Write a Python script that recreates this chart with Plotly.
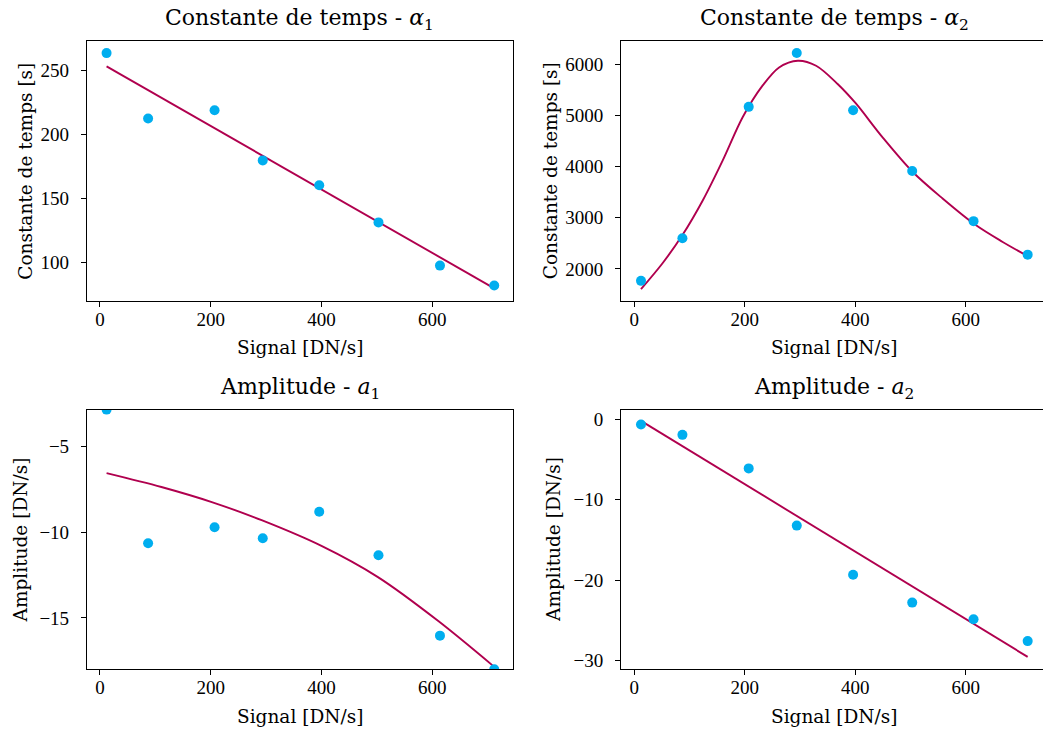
import plotly.graph_objects as go

# ---------------- data ----------------
signal = [12, 87, 207, 294, 396, 503, 614, 712]

tau1 = [263.8, 212.6, 219.1, 179.9, 160.4, 131.4, 97.6, 82.0]
tau2 = [1767, 2597, 5164, 6214, 5098, 3912, 2933, 2279]
amp1 = [-2.85, -10.64, -9.71, -10.35, -8.80, -11.34, -16.03, -17.99]
amp2 = [-0.66, -1.94, -6.11, -13.23, -19.34, -22.81, -24.88, -27.6]

fit_tau1_x = [12, 712]
fit_tau1_y = [253.4, 79.8]

fit_tau2_x = [12, 51, 87, 124, 160, 196, 232, 262, 296, 329, 368, 401, 449, 504, 558, 618, 666, 712]
fit_tau2_y = [1605, 2111, 2661, 3342, 4120, 4962, 5578, 5934, 6065, 5967, 5611, 5230, 4573, 3892, 3375, 2856, 2531, 2250]

fit_amp1_x = [12, 111, 202, 292, 400, 502, 611, 712]
fit_amp1_y = [-6.55, -7.36, -8.24, -9.30, -10.80, -12.62, -15.18, -17.85]

fit_amp2_x = [12, 712]
fit_amp2_y = [-0.2, -29.56]

x_ticks = [0, 200, 400, 600]
tau1_ticks = [100, 150, 200, 250]
tau2_ticks = [2000, 3000, 4000, 5000, 6000]
amp1_ticks = [-15, -10, -5]
amp2_ticks = [-30, -20, -10, 0]

titles = ["Constante de temps - <i>α</i><sub>1</sub>",
          "Constante de temps - <i>α</i><sub>2</sub>",
          "Amplitude - <i>a</i><sub>1</sub>",
          "Amplitude - <i>a</i><sub>2</sub>"]
ylabels = ["Constante de temps [s]", "Constante de temps [s]",
           "Amplitude [DN/s]", "Amplitude [DN/s]"]
xlabel = "Signal [DN/s]"

# ---------------- style ----------------
# figure is slightly wider than the 1043 px window so that, as in the
# reference, the right spine of the right-hand panels falls just outside.
W, H = 1048, 734
PT_COLOR = "#00AEEF"
LINE_COLOR = "#B0004E"
LABEL_FONT = "DejaVu Serif"
TICK_FONT = "Liberation Serif"


def px(x):
    return x / W


def py(y):
    return 1 - y / H


# plot areas in pixels: (left, right, top, bottom)
areas = [
    (87, 513, 40, 301),
    (621.7, 1048, 40, 301),
    (87, 513, 410.3, 671),
    (621.7, 1048, 410.3, 671),
]
xranges = [[-23.5, 745], [-24.0, 747], [-23.5, 745], [-24.0, 747]]
yranges = [[70.1, 273.4], [1378, 6453], [-17.99, -2.85], [-31.1, 1.2]]
yticks = [tau1_ticks, tau2_ticks, amp1_ticks, amp2_ticks]
series = [tau1, tau2, amp1, amp2]
fits = [(fit_tau1_x, fit_tau1_y, "linear"), (fit_tau2_x, fit_tau2_y, "spline"),
        (fit_amp1_x, fit_amp1_y, "spline"), (fit_amp2_x, fit_amp2_y, "linear")]
title_cx = [300, 835, 300, 835]
title_cy = [19, 19, 389, 389]
ylab_cx = [26, 551, 20, 554]
xlab_cy = [348, 348, 718, 718]

fig = go.Figure()
layout = dict(
    width=W, height=H, margin=dict(l=0, r=0, t=0, b=0),
    paper_bgcolor="white", plot_bgcolor="white", showlegend=False,
    annotations=[],
)

for i in range(4):
    n = "" if i == 0 else str(i + 1)
    xa, ya = "x" + n, "y" + n
    fx, fy, shape = fits[i]
    line = dict(color=LINE_COLOR, width=1.9, shape=shape)
    if shape == "spline":
        line["smoothing"] = 0.9
    fig.add_trace(go.Scatter(x=fx, y=fy, mode="lines", xaxis=xa, yaxis=ya, line=line))
    fig.add_trace(go.Scatter(x=signal, y=series[i], mode="markers", xaxis=xa, yaxis=ya,
                             marker=dict(color=PT_COLOR, size=10, line=dict(width=0))))
    l, r, t, b = areas[i]
    layout["xaxis" + n] = dict(
        domain=[px(l), px(r)], anchor=ya, range=xranges[i],
        tickvals=x_ticks, ticks="outside", ticklen=5, tickwidth=1, tickcolor="black",
        showline=True, linecolor="black", linewidth=1, mirror=True,
        showgrid=False, zeroline=False,
        tickfont=dict(family=TICK_FONT, size=19, color="black"),
        ticklabelstandoff=-4,
    )
    layout["yaxis" + n] = dict(
        domain=[py(b), py(t)], anchor=xa, range=yranges[i],
        tickvals=yticks[i], ticks="outside", ticklen=5, tickwidth=1, tickcolor="black",
        showline=True, linecolor="black", linewidth=1, mirror=True,
        showgrid=False, zeroline=False,
        tickfont=dict(family=TICK_FONT, size=19, color="black"),
        ticklabelstandoff=8,
    )
    layout["annotations"].append(dict(
        text=titles[i], x=px(title_cx[i]), y=py(title_cy[i]), xref="paper", yref="paper",
        xanchor="center", yanchor="middle", showarrow=False,
        font=dict(family=LABEL_FONT, size=22, color="black")))
    layout["annotations"].append(dict(
        text=ylabels[i], x=px(ylab_cx[i]), y=py((t + b) / 2), xref="paper", yref="paper",
        xanchor="center", yanchor="middle", showarrow=False, textangle=-90,
        font=dict(family=LABEL_FONT, size=18.5, color="black")))
    layout["annotations"].append(dict(
        text=xlabel, x=px((l + r) / 2), y=py(xlab_cy[i]), xref="paper", yref="paper",
        xanchor="center", yanchor="middle", showarrow=False,
        font=dict(family=LABEL_FONT, size=18.5, color="black")))

fig.update_layout(**layout)
fig.write_html("out.html", config={"displayModeBar": False},
               post_script="document.body.style.margin='0';document.body.style.overflow='hidden';")
